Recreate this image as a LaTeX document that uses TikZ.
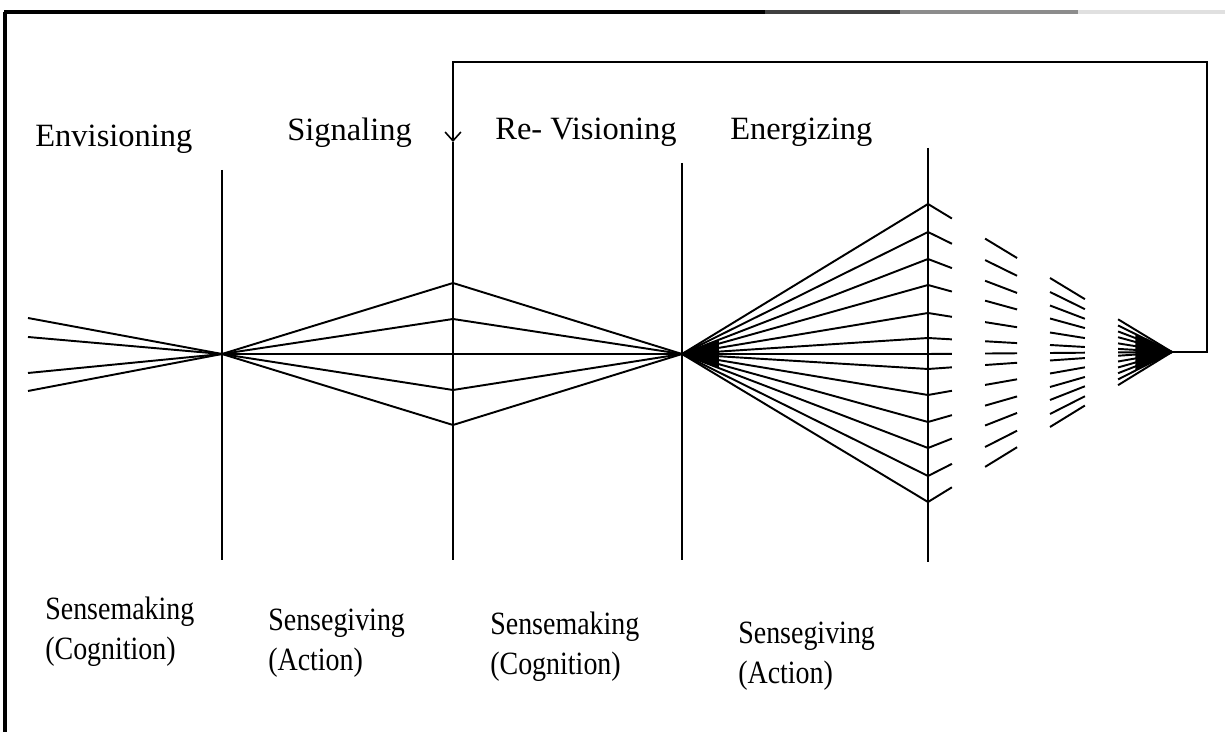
\documentclass[tikz,border=0pt]{standalone}
\usepackage{fontspec}
\setmainfont{Liberation Serif}
\usetikzlibrary{arrows.meta,calc}

\begin{document}
\begin{tikzpicture}[
  x=0.02cm, y=-0.02cm,
  phaseLbl/.style={anchor=north west, inner sep=0pt, font=\fontsize{18.5}{22}\selectfont},
  modeLbl/.style={anchor=north west, inner sep=0pt, align=left, xscale=0.86, font=\fontsize{18.5}{22.5}\selectfont},
  divider/.style={line width=1pt},
  ray/.style={line width=1.1pt},
  arr/.style={-{Straight Barb[length=5pt,width=9pt]}, line width=0.9pt},
]
\useasboundingbox (0,0) rectangle (1225,732);

% frame
\draw[line width=1.8pt] (5,732) -- (5,12);
\draw[line width=2.4pt] (4,12) -- (765,12);
\draw[line width=2.4pt, black!75] (765,12) -- (900,12);
\draw[line width=2.4pt, black!45] (900,12) -- (1078,12);
\draw[line width=2.4pt, black!12] (1078,12) -- (1225,12);

\node[phaseLbl] (env) at (35,125) {Envisioning};
\node[phaseLbl] (sig) at (287,118) {Signaling};
\node[phaseLbl] (rev) at (495,118) {Re- Visioning};
\node[phaseLbl] (ene) at (730,118) {Energizing};

\node[modeLbl] (sm1) at (45,597) {Sensemaking\\(Cognition)};
\node[modeLbl] (sg1) at (268,609) {Sensegiving\\(Action)};
\node[modeLbl] (sm2) at (490,612) {Sensemaking\\(Cognition)};
\node[modeLbl] (sg2) at (738,622) {Sensegiving\\(Action)};

\coordinate (conv1) at (222,354);
\coordinate (conv2) at (682,354);
\coordinate (tip) at (1172,352);
\coordinate (turnR) at (1207,352);
\coordinate (topR) at (1207,62);
\coordinate (topL) at (453,62);
\coordinate (back) at (453,142);

\draw[divider] (222,170) -- (222,560);
\draw[divider] (back) -- (453,560);
\draw[divider] (682,163) -- (682,560);
\draw[line width=1.6pt] (928,148) -- (928,562);

\foreach \y in {318,337,373,391}
  \draw[ray] (28,\y) -- (conv1);

\foreach \y [count=\i] in {283,319,354,390,425} {
  \coordinate (s\i) at (453,\y);
  \draw[ray] (conv1) -- (s\i) -- (conv2);
}

\foreach \y [count=\i] in {204,232,259,285,313,338,354,369,395,422,448,476,502} {
  \coordinate (e\i) at (928,\y);
  \draw[ray] (conv2) -- (e\i);
  \foreach \a/\b in {0/0.098, 0.234/0.365, 0.5/0.643, 0.779/1}
    \draw[ray] ($(e\i)!\a!(tip)$) -- ($(e\i)!\b!(tip)$);
}

% dense ends of the fan
\fill (conv2) -- ($(conv2)!0.15!(e3)$) -- ($(conv2)!0.15!(e11)$) -- cycle;
\fill (tip) -- ($(e2)!0.85!(tip)$) -- ($(e12)!0.85!(tip)$) -- cycle;

\draw[arr] (tip) -- (turnR) -- (topR) -- (topL) -- (back);

\end{tikzpicture}
\end{document}
